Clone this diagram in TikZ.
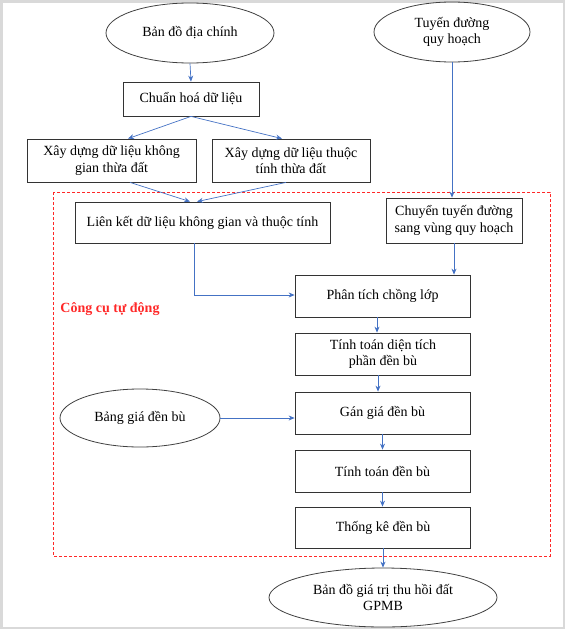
\documentclass[tikz,border=0pt]{standalone}
\usepackage{fontspec}
\setmainfont{Liberation Serif}
\usetikzlibrary{arrows.meta,shapes.geometric}
\definecolor{arrowblue}{RGB}{68,114,196}
\definecolor{framegray}{RGB}{217,217,217}
\definecolor{toolred}{RGB}{255,40,40}
\tikzset{
	stepbox/.style={draw=black!80, line width=0.8pt, rectangle, minimum height=42pt, minimum width=175pt, inner sep=0pt, align=center, font=\fontsize{14}{16.5}\selectfont},
	databubble/.style={draw=black!75, line width=0.8pt, ellipse, inner sep=0pt, align=center, font=\fontsize{14}{16.5}\selectfont},
	flowarrow/.style={draw=arrowblue, line width=0.7pt, -{Stealth[length=6pt,width=5pt]}}
}

\begin{document}
\begin{tikzpicture}[x=1pt, y=-1pt]
			%%%%% START %%%%%
			\useasboundingbox (0, 0) rectangle (565, 629);
			\draw[framegray, line width=2.5pt] (1.25, 1.25) rectangle (563.75, 627.75);
			
			\draw[toolred, line width=0.8pt, dash pattern=on 3pt off 2pt] (53, 192) rectangle (550, 556);
			\node[text=toolred, font=\fontsize{14}{16.5}\selectfont\bfseries] (tool) at (110, 309) {Công cụ tự động};
			
			\node[databubble, minimum width=168pt, minimum height=60pt] (bando) at (190, 33) {Bản đồ địa chính};
			\node[databubble, minimum width=156pt, minimum height=60pt] (tuyen) at (452, 32) {Tuyến đường\\quy hoạch};
			
			\node[stepbox, minimum width=136pt, minimum height=34pt] (chuan) at (191, 99) {Chuẩn hoá dữ liệu};
			\node[stepbox, minimum width=169pt, minimum height=43pt] (xdkg) at (111.5, 160.5) {Xây dựng dữ liệu không\\gian thừa đất};
			\node[stepbox, minimum width=158pt, minimum height=43pt] (xdtt) at (291, 160.5) {Xây dựng dữ liệu thuộc\\tính thừa đất};
			
			\node[stepbox, minimum width=255pt, minimum height=41pt] (lienket) at (202.5, 222.5) {Liên kết dữ liệu không gian và thuộc tính};
			\node[stepbox, minimum width=136pt, minimum height=45pt] (chuyen) at (454, 220.5) {Chuyển tuyến đường\\sang vùng quy hoạch};
			
			\node[stepbox] (phantich) at (382.5, 296) {Phân tích chồng lớp};
			\node[stepbox] (tinhdt) at (383, 354) {Tính toán diện tích\\phần đền bù};
			\node[stepbox] (gan) at (382.5, 413) {Gán giá đền bù};
			\node[stepbox] (tinhdb) at (382.5, 471) {Tính toán đền bù};
			\node[stepbox, minimum height=41pt] (thongke) at (383, 527.5) {Thống kê đền bù};
			
			\node[databubble, minimum width=160pt, minimum height=58pt] (bang) at (140, 418) {Bảng giá đền bù};
			\node[databubble, minimum width=228pt, minimum height=59pt] (ketqua) at (383, 597.5) {Bản đồ giá trị thu hồi đất\\GPMB};
			
			\draw[flowarrow] (bando.south) -- (chuan.north);
			\draw[flowarrow] (chuan.south) -- ([xshift=16.5pt]xdkg.north);
			\draw[flowarrow] (chuan.south) -- ([xshift=-9pt]xdtt.north);
			\draw[flowarrow] ([xshift=18.5pt]xdkg.south) -- ([xshift=-12.5pt]lienket.north);
			\draw[flowarrow] ([xshift=-5pt]xdtt.south) -- ([xshift=-5.5pt]lienket.north);
			
			\draw[flowarrow] (tuyen.south) -- (tuyen.south |- chuyen.north);
			\draw[flowarrow] (chuyen.south) -- (chuyen.south |- phantich.north);
			\draw[flowarrow] ([xshift=-8.5pt]lienket.south) |- ([yshift=1pt]phantich.west);
			
			\draw[flowarrow] ([xshift=-5.5pt]phantich.south) -- ([xshift=-6pt]tinhdt.north);
			\draw[flowarrow] ([xshift=-5pt]tinhdt.south) -- ([xshift=-4.5pt]gan.north);
			\draw[flowarrow] (bang.east) -- (bang.east -| gan.west);
			\draw[flowarrow] (gan.south) -- (tinhdb.north);
			\draw[flowarrow] (tinhdb.south) -- (tinhdb.south |- thongke.north);
			\draw[flowarrow] (thongke.south) -- (ketqua.north);
			%%%%% END %%%%%
		\end{tikzpicture}
\end{document}
